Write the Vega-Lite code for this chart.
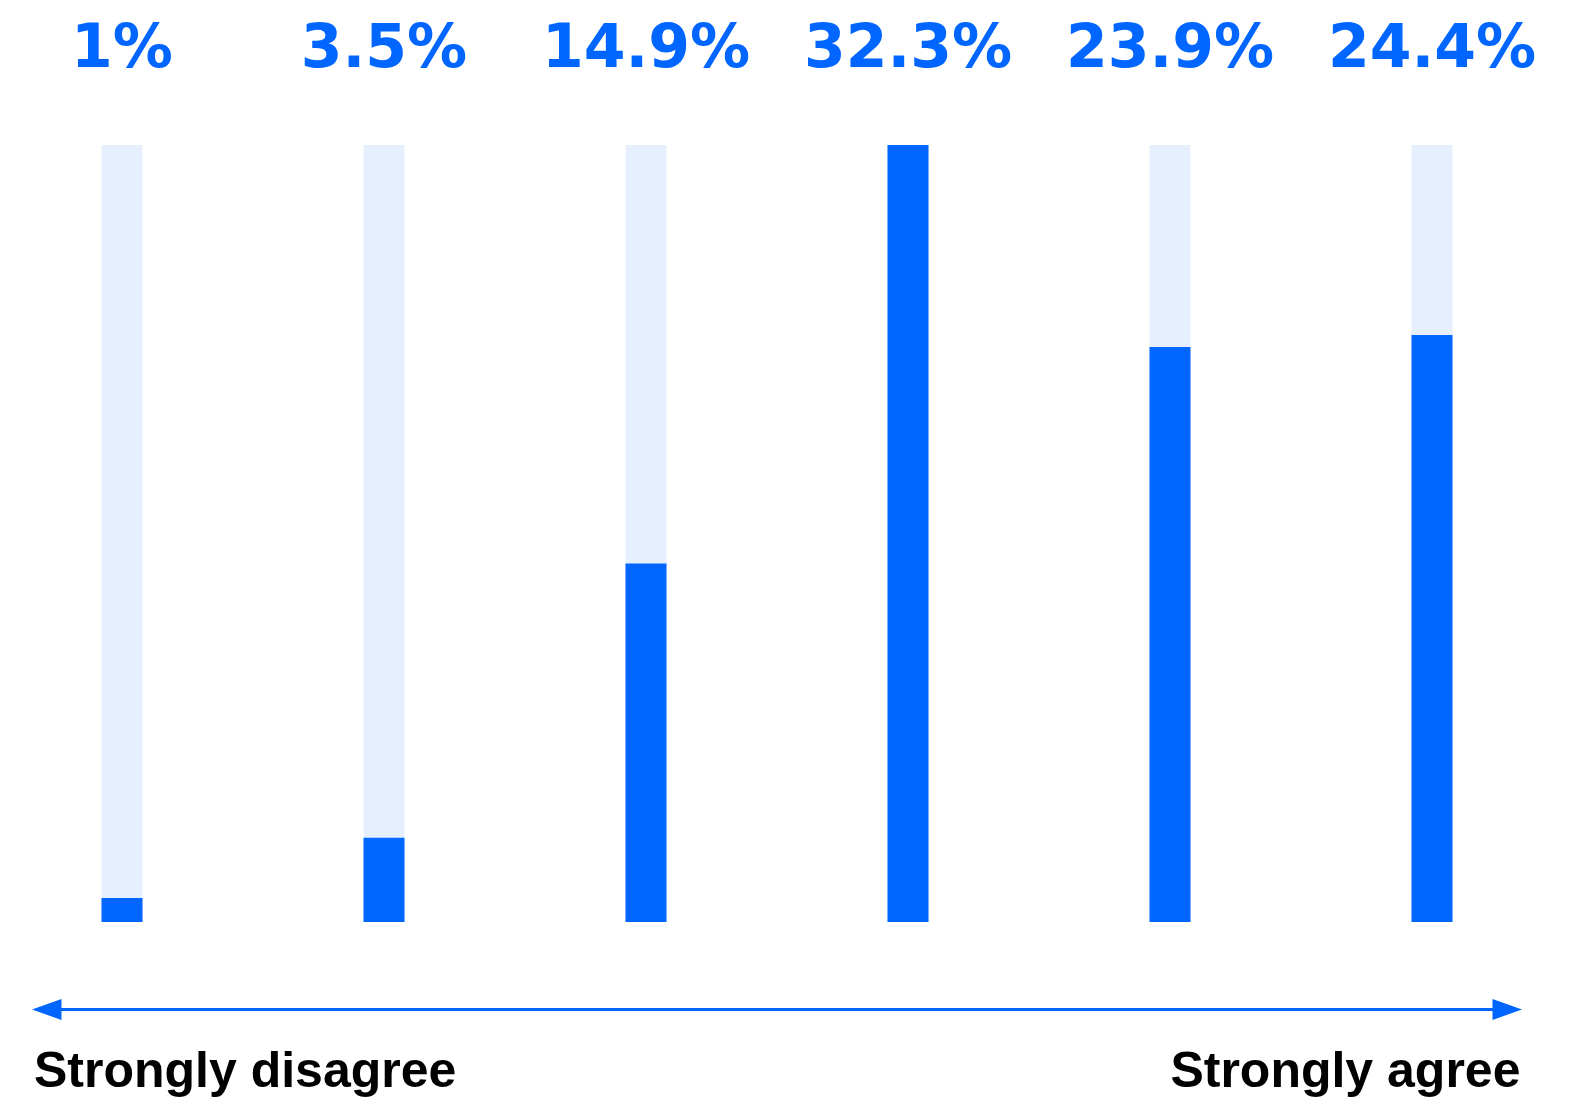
{
  "$schema": "https://vega.github.io/schema/vega-lite/v6.json",
  "width": 1490,
  "height": 777,
  "autosize": {"type": "none"},
  "padding": {"left": 32, "top": 145, "right": 62, "bottom": 176},
  "background": "white",
  "config": {"view": {"stroke": null}},
  "datasets": {
    "likert": [
      {"level": 1, "value": 1, "label": "1%"},
      {"level": 2, "value": 3.5, "label": "3.5%"},
      {"level": 3, "value": 14.9, "label": "14.9%"},
      {"level": 4, "value": 32.3, "label": "32.3%"},
      {"level": 5, "value": 23.9, "label": "23.9%"},
      {"level": 6, "value": 24.4, "label": "24.4%"}
    ],
    "ends": [
      {"end": "Strongly disagree", "pos": 0, "pos2": 1},
      {"end": "Strongly agree", "pos": 1, "pos2": 1}
    ]
  },
  "layer": [
    {
      "data": {"name": "likert"},
      "transform": [{"joinaggregate": [{"op": "max", "field": "value", "as": "maxv"}]}],
      "encoding": {
        "x": {
          "field": "level",
          "type": "ordinal",
          "sort": "ascending",
          "axis": null,
          "scale": {"paddingInner": 0.8435, "paddingOuter": 0.2653, "align": 0.5}
        }
      },
      "layer": [
        {
          "mark": {"type": "bar", "color": "#e6effd"},
          "encoding": {
            "y": {"field": "maxv", "type": "quantitative", "axis": null, "scale": {"nice": false}}
          }
        },
        {
          "mark": {"type": "bar", "color": "#0066ff"},
          "encoding": {
            "y": {"field": "value", "type": "quantitative"}
          }
        },
        {
          "mark": {
            "type": "text",
            "font": "DejaVu Sans",
            "fontWeight": "bold",
            "fontSize": 60,
            "color": "#0066ff",
            "align": "center",
            "baseline": "alphabetic",
            "yOffset": -78
          },
          "encoding": {
            "y": {"field": "maxv", "type": "quantitative"},
            "text": {"field": "label", "type": "nominal"}
          }
        }
      ]
    },
    {
      "data": {"name": "ends"},
      "layer": [
        {
          "transform": [{"filter": "datum.pos == 0"}],
          "mark": {"type": "rule", "color": "#0066ff", "strokeWidth": 3, "yOffset": 87.5, "xOffset": 8, "x2Offset": -8},
          "encoding": {
            "x": {"field": "pos", "type": "quantitative", "axis": null, "scale": {"domain": [0, 1], "nice": false}},
            "x2": {"field": "pos2"},
            "y": {"datum": 0, "type": "quantitative"}
          }
        },
        {
          "transform": [{"filter": "datum.pos == 0"}],
          "mark": {"type": "point", "shape": "M -1 0 L 1 -0.71 L 1 0.71 Z", "size": 870, "filled": true, "opacity": 1, "color": "#0066ff", "strokeWidth": 0, "yOffset": 87.5, "xOffset": 14.75},
          "encoding": {
            "x": {"field": "pos", "type": "quantitative"},
            "y": {"datum": 0, "type": "quantitative"}
          }
        },
        {
          "transform": [{"filter": "datum.pos == 1"}],
          "mark": {"type": "point", "shape": "M 1 0 L -1 -0.71 L -1 0.71 Z", "size": 870, "filled": true, "opacity": 1, "color": "#0066ff", "strokeWidth": 0, "yOffset": 87.5, "xOffset": -14.75},
          "encoding": {
            "x": {"field": "pos", "type": "quantitative"},
            "y": {"datum": 0, "type": "quantitative"}
          }
        },
        {
          "transform": [{"filter": "datum.pos == 0"}],
          "mark": {"type": "text", "font": "Liberation Sans", "fontWeight": "bold", "fontSize": 50, "color": "black", "align": "left", "baseline": "alphabetic", "yOffset": 164.5, "xOffset": 2},
          "encoding": {
            "x": {"field": "pos", "type": "quantitative"},
            "y": {"datum": 0, "type": "quantitative"},
            "text": {"field": "end", "type": "nominal"}
          }
        },
        {
          "transform": [{"filter": "datum.pos == 1"}],
          "mark": {"type": "text", "font": "Liberation Sans", "fontWeight": "bold", "fontSize": 50, "color": "black", "align": "right", "baseline": "alphabetic", "yOffset": 164.5, "xOffset": -1.5},
          "encoding": {
            "x": {"field": "pos", "type": "quantitative"},
            "y": {"datum": 0, "type": "quantitative"},
            "text": {"field": "end", "type": "nominal"}
          }
        }
      ]
    }
  ],
  "resolve": {"scale": {"x": "independent"}}
}
